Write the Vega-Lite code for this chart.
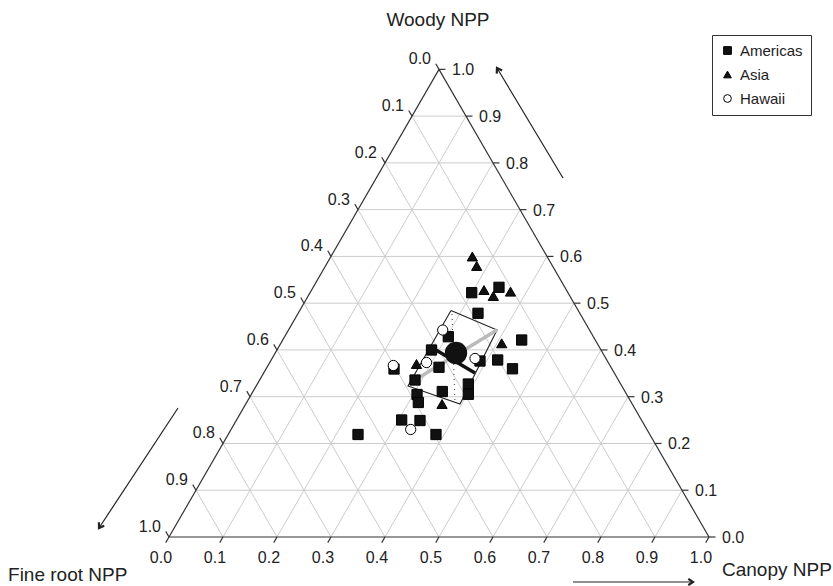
{
  "$schema": "https://vega.github.io/schema/vega-lite/v6.json",
  "width": 833,
  "height": 586,
  "padding": 0,
  "autosize": {"type": "none"},
  "background": "white",
  "config": {
    "view": {"stroke": null},
    "font": "Liberation Sans",
    "text": {"font": "Liberation Sans", "fontSize": 16, "color": "#222"}
  },
  "datasets": {
    "grid": [
      {"x": 0.05, "y": 0.0866, "x2": 0.95, "y2": 0.0866},
      {"x": 0.1, "y": 0.1732, "x2": 0.9, "y2": 0.1732},
      {"x": 0.15, "y": 0.2598, "x2": 0.85, "y2": 0.2598},
      {"x": 0.2, "y": 0.3464, "x2": 0.8, "y2": 0.3464},
      {"x": 0.25, "y": 0.433, "x2": 0.75, "y2": 0.433},
      {"x": 0.3, "y": 0.5196, "x2": 0.7, "y2": 0.5196},
      {"x": 0.35, "y": 0.6062, "x2": 0.65, "y2": 0.6062},
      {"x": 0.4, "y": 0.6928, "x2": 0.6, "y2": 0.6928},
      {"x": 0.45, "y": 0.7794, "x2": 0.55, "y2": 0.7794},
      {"x": 0.1, "y": 0, "x2": 0.55, "y2": 0.7794},
      {"x": 0.2, "y": 0, "x2": 0.6, "y2": 0.6928},
      {"x": 0.3, "y": 0, "x2": 0.65, "y2": 0.6062},
      {"x": 0.4, "y": 0, "x2": 0.7, "y2": 0.5196},
      {"x": 0.5, "y": 0, "x2": 0.75, "y2": 0.433},
      {"x": 0.6, "y": 0, "x2": 0.8, "y2": 0.3464},
      {"x": 0.7, "y": 0, "x2": 0.85, "y2": 0.2598},
      {"x": 0.8, "y": 0, "x2": 0.9, "y2": 0.1732},
      {"x": 0.9, "y": 0, "x2": 0.95, "y2": 0.0866},
      {"x": 0.45, "y": 0.7794, "x2": 0.9, "y2": 0},
      {"x": 0.4, "y": 0.6928, "x2": 0.8, "y2": 0},
      {"x": 0.35, "y": 0.6062, "x2": 0.7, "y2": 0},
      {"x": 0.3, "y": 0.5196, "x2": 0.6, "y2": 0},
      {"x": 0.25, "y": 0.433, "x2": 0.5, "y2": 0},
      {"x": 0.2, "y": 0.3464, "x2": 0.4, "y2": 0},
      {"x": 0.15, "y": 0.2598, "x2": 0.3, "y2": 0},
      {"x": 0.1, "y": 0.1732, "x2": 0.2, "y2": 0},
      {"x": 0.05, "y": 0.0866, "x2": 0.1, "y2": 0}
    ],
    "edges": [
      {"x": 0, "y": 0, "x2": 1, "y2": 0},
      {"x": 1, "y": 0, "x2": 0.5, "y2": 0.866},
      {"x": 0.5, "y": 0.866, "x2": 0, "y2": 0},
      {"x": 0, "y": 0, "x2": -0.006, "y2": -0.0104},
      {"x": 0.1, "y": 0, "x2": 0.094, "y2": -0.0104},
      {"x": 0.2, "y": 0, "x2": 0.194, "y2": -0.0104},
      {"x": 0.3, "y": 0, "x2": 0.294, "y2": -0.0104},
      {"x": 0.4, "y": 0, "x2": 0.394, "y2": -0.0104},
      {"x": 0.5, "y": 0, "x2": 0.494, "y2": -0.0104},
      {"x": 0.6, "y": 0, "x2": 0.594, "y2": -0.0104},
      {"x": 0.7, "y": 0, "x2": 0.694, "y2": -0.0104},
      {"x": 0.8, "y": 0, "x2": 0.794, "y2": -0.0104},
      {"x": 0.9, "y": 0, "x2": 0.894, "y2": -0.0104},
      {"x": 1, "y": 0, "x2": 0.994, "y2": -0.0104},
      {"x": 1, "y": 0, "x2": 1.012, "y2": 0},
      {"x": 0.95, "y": 0.0866, "x2": 0.962, "y2": 0.0866},
      {"x": 0.9, "y": 0.1732, "x2": 0.912, "y2": 0.1732},
      {"x": 0.85, "y": 0.2598, "x2": 0.862, "y2": 0.2598},
      {"x": 0.8, "y": 0.3464, "x2": 0.812, "y2": 0.3464},
      {"x": 0.75, "y": 0.433, "x2": 0.762, "y2": 0.433},
      {"x": 0.7, "y": 0.5196, "x2": 0.712, "y2": 0.5196},
      {"x": 0.65, "y": 0.6062, "x2": 0.662, "y2": 0.6062},
      {"x": 0.6, "y": 0.6928, "x2": 0.612, "y2": 0.6928},
      {"x": 0.55, "y": 0.7794, "x2": 0.562, "y2": 0.7794},
      {"x": 0.5, "y": 0.866, "x2": 0.512, "y2": 0.866},
      {"x": 0.5, "y": 0.866, "x2": 0.494, "y2": 0.8764},
      {"x": 0.45, "y": 0.7794, "x2": 0.444, "y2": 0.7898},
      {"x": 0.4, "y": 0.6928, "x2": 0.394, "y2": 0.7032},
      {"x": 0.35, "y": 0.6062, "x2": 0.344, "y2": 0.6166},
      {"x": 0.3, "y": 0.5196, "x2": 0.294, "y2": 0.53},
      {"x": 0.25, "y": 0.433, "x2": 0.244, "y2": 0.4434},
      {"x": 0.2, "y": 0.3464, "x2": 0.194, "y2": 0.3568},
      {"x": 0.15, "y": 0.2598, "x2": 0.144, "y2": 0.2702},
      {"x": 0.1, "y": 0.1732, "x2": 0.094, "y2": 0.1836},
      {"x": 0.05, "y": 0.0866, "x2": 0.044, "y2": 0.097},
      {"x": 0, "y": 0, "x2": -0.006, "y2": 0.0104}
    ],
    "labels": [
      {"axis": "canopy", "x": 0, "y": 0, "label": "0.0"},
      {"axis": "canopy", "x": 0.1, "y": 0, "label": "0.1"},
      {"axis": "canopy", "x": 0.2, "y": 0, "label": "0.2"},
      {"axis": "canopy", "x": 0.3, "y": 0, "label": "0.3"},
      {"axis": "canopy", "x": 0.4, "y": 0, "label": "0.4"},
      {"axis": "canopy", "x": 0.5, "y": 0, "label": "0.5"},
      {"axis": "canopy", "x": 0.6, "y": 0, "label": "0.6"},
      {"axis": "canopy", "x": 0.7, "y": 0, "label": "0.7"},
      {"axis": "canopy", "x": 0.8, "y": 0, "label": "0.8"},
      {"axis": "canopy", "x": 0.9, "y": 0, "label": "0.9"},
      {"axis": "canopy", "x": 1, "y": 0, "label": "1.0"},
      {"axis": "woody", "x": 1, "y": 0, "label": "0.0"},
      {"axis": "woody", "x": 0.95, "y": 0.0866, "label": "0.1"},
      {"axis": "woody", "x": 0.9, "y": 0.1732, "label": "0.2"},
      {"axis": "woody", "x": 0.85, "y": 0.2598, "label": "0.3"},
      {"axis": "woody", "x": 0.8, "y": 0.3464, "label": "0.4"},
      {"axis": "woody", "x": 0.75, "y": 0.433, "label": "0.5"},
      {"axis": "woody", "x": 0.7, "y": 0.5196, "label": "0.6"},
      {"axis": "woody", "x": 0.65, "y": 0.6062, "label": "0.7"},
      {"axis": "woody", "x": 0.6, "y": 0.6928, "label": "0.8"},
      {"axis": "woody", "x": 0.55, "y": 0.7794, "label": "0.9"},
      {"axis": "woody", "x": 0.5, "y": 0.866, "label": "1.0"},
      {"axis": "fine", "x": 0.5, "y": 0.866, "label": "0.0"},
      {"axis": "fine", "x": 0.45, "y": 0.7794, "label": "0.1"},
      {"axis": "fine", "x": 0.4, "y": 0.6928, "label": "0.2"},
      {"axis": "fine", "x": 0.35, "y": 0.6062, "label": "0.3"},
      {"axis": "fine", "x": 0.3, "y": 0.5196, "label": "0.4"},
      {"axis": "fine", "x": 0.25, "y": 0.433, "label": "0.5"},
      {"axis": "fine", "x": 0.2, "y": 0.3464, "label": "0.6"},
      {"axis": "fine", "x": 0.15, "y": 0.2598, "label": "0.7"},
      {"axis": "fine", "x": 0.1, "y": 0.1732, "label": "0.8"},
      {"axis": "fine", "x": 0.05, "y": 0.0866, "label": "0.9"},
      {"axis": "fine", "x": 0, "y": 0, "label": "1.0"}
    ],
    "titles": [
      {"x": 0.4981, "y": 0.9574, "label": "Woody NPP", "pos": "top"},
      {"x": -0.2981, "y": -0.0704, "label": "Fine root NPP", "pos": "left"},
      {"x": 1.0241, "y": -0.0611, "label": "Canopy NPP", "pos": "right"}
    ],
    "points": [
      {"region": "Americas", "x": 0.5606, "y": 0.4524},
      {"region": "Americas", "x": 0.6111, "y": 0.4624},
      {"region": "Americas", "x": 0.5722, "y": 0.4143},
      {"region": "Americas", "x": 0.6531, "y": 0.3648},
      {"region": "Americas", "x": 0.5172, "y": 0.3709},
      {"region": "Americas", "x": 0.4861, "y": 0.3463},
      {"region": "Americas", "x": 0.5, "y": 0.3143},
      {"region": "Americas", "x": 0.4167, "y": 0.3111},
      {"region": "Americas", "x": 0.4556, "y": 0.2907},
      {"region": "Americas", "x": 0.4593, "y": 0.2639},
      {"region": "Americas", "x": 0.4617, "y": 0.2491},
      {"region": "Americas", "x": 0.5061, "y": 0.2694},
      {"region": "Americas", "x": 0.5543, "y": 0.2833},
      {"region": "Americas", "x": 0.5543, "y": 0.2643},
      {"region": "Americas", "x": 0.5759, "y": 0.3259},
      {"region": "Americas", "x": 0.6087, "y": 0.3278},
      {"region": "Americas", "x": 0.6361, "y": 0.3115},
      {"region": "Americas", "x": 0.4309, "y": 0.2167},
      {"region": "Americas", "x": 0.4648, "y": 0.2157},
      {"region": "Americas", "x": 0.35, "y": 0.1898},
      {"region": "Americas", "x": 0.4944, "y": 0.1898},
      {"region": "Asia", "x": 0.5617, "y": 0.5194},
      {"region": "Asia", "x": 0.5698, "y": 0.5019},
      {"region": "Asia", "x": 0.5833, "y": 0.4574},
      {"region": "Asia", "x": 0.6006, "y": 0.4463},
      {"region": "Asia", "x": 0.6324, "y": 0.4543},
      {"region": "Asia", "x": 0.6161, "y": 0.3587},
      {"region": "Asia", "x": 0.4583, "y": 0.3204},
      {"region": "Asia", "x": 0.5056, "y": 0.2463},
      {"region": "Hawaii", "x": 0.5069, "y": 0.3833},
      {"region": "Hawaii", "x": 0.4769, "y": 0.3231},
      {"region": "Hawaii", "x": 0.4154, "y": 0.3176},
      {"region": "Hawaii", "x": 0.5667, "y": 0.3306},
      {"region": "Hawaii", "x": 0.4476, "y": 0.1991}
    ],
    "box": [
      {"i": 0, "x": 0.5222, "y": 0.4194},
      {"i": 1, "x": 0.6074, "y": 0.3833},
      {"i": 2, "x": 0.5389, "y": 0.2463},
      {"i": 3, "x": 0.4426, "y": 0.2796},
      {"i": 4, "x": 0.5222, "y": 0.4194}
    ],
    "segs": [
      {"kind": "dotted", "x": 0.5241, "y": 0.413, "x2": 0.5296, "y2": 0.2481},
      {"kind": "gray", "x": 0.4648, "y": 0.2963, "x2": 0.6074, "y2": 0.3833},
      {"kind": "black", "x": 0.4833, "y": 0.3528, "x2": 0.5667, "y2": 0.3037}
    ],
    "arrows": [
      {"name": "woody", "x": 0.7296, "y": 0.6648, "x2": 0.6074, "y2": 0.8685},
      {"name": "fine", "x": 0.0167, "y": 0.2389, "x2": -0.1296, "y2": 0.0167},
      {"name": "canopy", "x": 0.7481, "y": -0.0833, "x2": 0.9704, "y2": -0.0833}
    ],
    "mean": [{"x": 0.5315, "y": 0.3407}]
  },
  "encoding": {
    "x": {"field": "x", "type": "quantitative", "axis": null, "scale": {"domain": [-0.31296, 1.22963], "nice": false, "zero": false}},
    "y": {"field": "y", "type": "quantitative", "axis": null, "scale": {"domain": [-0.09074, 0.99444], "nice": false, "zero": false}}
  },
  "layer": [
    {
      "data": {"name": "grid"},
      "mark": {"type": "rule", "color": "#cccccc", "strokeWidth": 1},
      "encoding": {"x2": {"field": "x2"}, "y2": {"field": "y2"}}
    },
    {
      "data": {"name": "edges"},
      "mark": {"type": "rule", "color": "#333333", "strokeWidth": 1.2},
      "encoding": {"x2": {"field": "x2"}, "y2": {"field": "y2"}}
    },
    {
      "data": {"name": "labels"},
      "transform": [{"filter": "datum.axis === 'canopy'"}],
      "mark": {"type": "text", "align": "center", "baseline": "middle", "dx": -8, "dy": 21},
      "encoding": {"text": {"field": "label"}}
    },
    {
      "data": {"name": "labels"},
      "transform": [{"filter": "datum.axis === 'woody'"}],
      "mark": {"type": "text", "align": "left", "baseline": "middle", "dx": 13, "dy": 1},
      "encoding": {"text": {"field": "label"}}
    },
    {
      "data": {"name": "labels"},
      "transform": [{"filter": "datum.axis === 'fine'"}],
      "mark": {"type": "text", "align": "right", "baseline": "middle", "dx": -8, "dy": -10},
      "encoding": {"text": {"field": "label"}}
    },
    {
      "data": {"name": "titles"},
      "transform": [{"filter": "datum.pos === 'top'"}],
      "mark": {"type": "text", "align": "center", "baseline": "middle", "fontSize": 19},
      "encoding": {"text": {"field": "label"}}
    },
    {
      "data": {"name": "titles"},
      "transform": [{"filter": "datum.pos !== 'top'"}],
      "mark": {"type": "text", "align": "left", "baseline": "middle", "fontSize": 19},
      "encoding": {"text": {"field": "label"}}
    },
    {
      "data": {"name": "arrows"},
      "mark": {"type": "rule", "color": "#222222", "strokeWidth": 1.2},
      "encoding": {"x2": {"field": "x2"}, "y2": {"field": "y2"}}
    },
    {
      "data": {"name": "arrows"},
      "transform": [{"filter": "datum.name === 'woody'"}],
      "mark": {"type": "point", "shape": "M-0.6,0.9L0,0L0.6,0.9", "filled": false, "stroke": "#222222", "strokeWidth": 2.2, "size": 110, "angle": -31, "opacity": 1},
      "encoding": {"x": {"field": "x2", "type": "quantitative"}, "y": {"field": "y2", "type": "quantitative"}}
    },
    {
      "data": {"name": "arrows"},
      "transform": [{"filter": "datum.name === 'fine'"}],
      "mark": {"type": "point", "shape": "M-0.6,0.9L0,0L0.6,0.9", "filled": false, "stroke": "#222222", "strokeWidth": 2.2, "size": 110, "angle": 213, "opacity": 1},
      "encoding": {"x": {"field": "x2", "type": "quantitative"}, "y": {"field": "y2", "type": "quantitative"}}
    },
    {
      "data": {"name": "arrows"},
      "transform": [{"filter": "datum.name === 'canopy'"}],
      "mark": {"type": "point", "shape": "M-0.6,0.9L0,0L0.6,0.9", "filled": false, "stroke": "#222222", "strokeWidth": 2.2, "size": 110, "angle": 90, "opacity": 1},
      "encoding": {"x": {"field": "x2", "type": "quantitative"}, "y": {"field": "y2", "type": "quantitative"}}
    },
    {
      "data": {"name": "box"},
      "mark": {"type": "line", "color": "#222222", "strokeWidth": 1.1},
      "encoding": {"order": {"field": "i", "type": "quantitative"}}
    },
    {
      "data": {"name": "segs"},
      "transform": [{"filter": "datum.kind === 'dotted'"}],
      "mark": {"type": "rule", "color": "#333333", "strokeWidth": 1, "strokeDash": [1, 4]},
      "encoding": {"x2": {"field": "x2"}, "y2": {"field": "y2"}}
    },
    {
      "data": {"name": "segs"},
      "transform": [{"filter": "datum.kind === 'gray'"}],
      "mark": {"type": "rule", "color": "#bbbbbb", "strokeWidth": 3.5},
      "encoding": {"x2": {"field": "x2"}, "y2": {"field": "y2"}}
    },
    {
      "data": {"name": "points"},
      "mark": {"type": "point", "filled": true, "stroke": "black", "strokeWidth": 1, "opacity": 1, "size": 105},
      "encoding": {
        "shape": {"field": "region", "type": "nominal", "scale": {"domain": ["Americas", "Asia", "Hawaii"], "range": ["square", "triangle-up", "circle"]}, "legend": {"title": null, "orient": "none", "legendX": 712, "legendY": 35, "strokeColor": "#333333", "fillColor": "white", "padding": 8, "symbolSize": 60, "labelFontSize": 15, "labelFont": "Liberation Sans", "labelColor": "#222", "rowPadding": 8, "labelOffset": 5, "symbolStrokeWidth": 1}},
        "fill": {"field": "region", "type": "nominal", "scale": {"domain": ["Americas", "Asia", "Hawaii"], "range": ["#111111", "#111111", "white"]}, "legend": {"title": null, "orient": "none", "legendX": 712, "legendY": 35, "strokeColor": "#333333", "fillColor": "white", "padding": 8, "symbolSize": 60, "labelFontSize": 15, "labelFont": "Liberation Sans", "labelColor": "#222", "rowPadding": 8, "labelOffset": 5, "symbolStrokeWidth": 1}}
      }
    },
    {
      "data": {"name": "segs"},
      "transform": [{"filter": "datum.kind === 'black'"}],
      "mark": {"type": "rule", "color": "#111111", "strokeWidth": 3.5},
      "encoding": {"x2": {"field": "x2"}, "y2": {"field": "y2"}}
    },
    {
      "data": {"name": "mean"},
      "mark": {"type": "point", "shape": "circle", "filled": true, "color": "#111111", "opacity": 1, "size": 500}
    }
  ]
}
